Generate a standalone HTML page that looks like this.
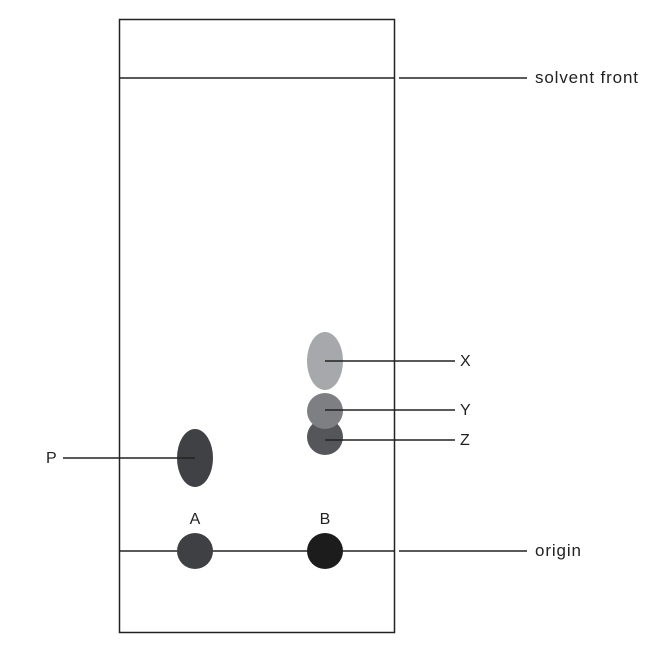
<!DOCTYPE html>
<html><head><style>body{margin:0;background:#fff}</style></head><body>
<svg width="666" height="645" xmlns="http://www.w3.org/2000/svg" font-family="Liberation Sans, sans-serif" font-size="16" fill="#222">
<rect width="666" height="645" fill="#fff"/>
<rect x="119.5" y="19.5" width="275" height="613" fill="none" stroke="#222" stroke-width="1.5"/>
<line x1="119" y1="78" x2="394" y2="78" stroke="#222" stroke-width="1.5"/>
<line x1="399" y1="78" x2="527" y2="78" stroke="#222" stroke-width="1.5"/>
<text x="535" y="83" font-size="17" textLength="103">solvent front</text>
<ellipse cx="325" cy="361" rx="18" ry="29" fill="#a6a8ab"/>
<circle cx="325" cy="437" r="18" fill="#55565a"/>
<circle cx="325" cy="411" r="18" fill="#7e7f83"/>
<line x1="325" y1="361" x2="455" y2="361" stroke="#222" stroke-width="1.5"/>
<line x1="325" y1="410" x2="455" y2="410" stroke="#222" stroke-width="1.5"/>
<line x1="325" y1="440" x2="455" y2="440" stroke="#222" stroke-width="1.5"/>
<text x="460" y="366">X</text>
<text x="460" y="415">Y</text>
<text x="460" y="445">Z</text>
<ellipse cx="195" cy="458" rx="18" ry="29" fill="#404144"/>
<line x1="63" y1="458" x2="195" y2="458" stroke="#222" stroke-width="1.5"/>
<text x="46" y="463">P</text>
<line x1="119" y1="551" x2="394" y2="551" stroke="#222" stroke-width="1.5"/>
<line x1="399" y1="551" x2="527" y2="551" stroke="#222" stroke-width="1.5"/>
<circle cx="195" cy="551" r="18" fill="#3f4043"/>
<circle cx="325" cy="551" r="18" fill="#1c1c1c"/>
<text x="195" y="524" text-anchor="middle">A</text>
<text x="325" y="524" text-anchor="middle">B</text>
<text x="535" y="556" font-size="17" textLength="46">origin</text>
</svg>
</body></html>
